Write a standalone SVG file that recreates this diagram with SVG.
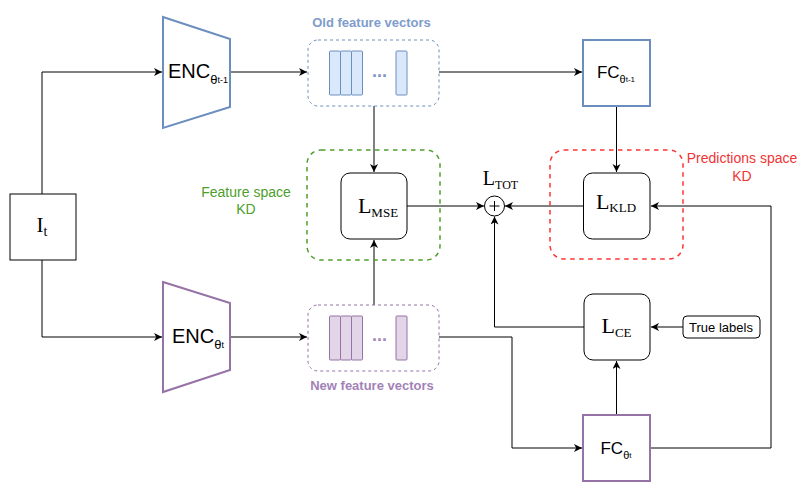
<svg xmlns="http://www.w3.org/2000/svg" width="806" height="488" viewBox="0 0 806 488">
<style>
.bg{fill:#ffffff}
.edge{fill:none;stroke:#000;stroke-width:1}
.box{fill:#fff;stroke:#000;stroke-width:1}
.blue{fill:#fff;stroke:#6c8ebf;stroke-width:2}
.purple{fill:#fff;stroke:#9673a6;stroke-width:2}
.fvb{fill:#fff;stroke:#6c8ebf;stroke-width:1;stroke-dasharray:3 3}
.fvp{fill:#fff;stroke:#9673a6;stroke-width:1;stroke-dasharray:3 3}
.barb{fill:#dae8fc;stroke:#6c8ebf;stroke-width:1}
.barp{fill:#e1d5e7;stroke:#9673a6;stroke-width:1}
.sans{font-family:"Liberation Sans",Arial,sans-serif}
.serif{font-family:"Liberation Serif","Times New Roman",serif}
</style>
<defs>
<marker id="arr" markerUnits="userSpaceOnUse" markerWidth="10" markerHeight="10" refX="8" refY="4" orient="auto">
<path d="M0,0 L8,4 L0,8 L2.2,4 Z" fill="#000"/>
</marker>
</defs>
<rect class="bg" x="0" y="0" width="806" height="488"/>

<g id="connectors">
<path class="edge" d="M42,194 V72 H162" marker-end="url(#arr)"/>
<path class="edge" d="M42,260 V337 H162" marker-end="url(#arr)"/>
<path class="edge" d="M230,72 H307" marker-end="url(#arr)"/>
<path class="edge" d="M230,337 H307" marker-end="url(#arr)"/>
<path class="edge" d="M439,72 H582" marker-end="url(#arr)"/>
<path class="edge" d="M374,106 V172" marker-end="url(#arr)"/>
<path class="edge" d="M374,305 V240" marker-end="url(#arr)"/>
<path class="edge" d="M616.5,106 V172" marker-end="url(#arr)"/>
<path class="edge" d="M407,206 H484" marker-end="url(#arr)"/>
<path class="edge" d="M583,206 H505" marker-end="url(#arr)"/>
<path class="edge" d="M584,327 H494.5 V216.5" marker-end="url(#arr)"/>
<path class="edge" d="M650,448 H771 V206 H651" marker-end="url(#arr)"/>
<path class="edge" d="M439,337 H512 V448 H582" marker-end="url(#arr)"/>
<path class="edge" d="M616.5,415 V361" marker-end="url(#arr)"/>
<path class="edge" d="M683,327 H651" marker-end="url(#arr)"/>
</g>

<g id="input">
<rect class="box" x="10" y="194" width="66" height="66"/>
<text class="serif" x="42" y="232" font-size="21" text-anchor="middle" fill="#000">I<tspan font-size="14" dy="4">t</tspan></text>
</g>

<g id="enc-old">
<polygon class="blue" points="163,17 230,39 230,107 163,128"/>
<text class="sans" x="198" y="78" font-size="20" text-anchor="middle" fill="#000">ENC<tspan font-size="13" dy="6">θ</tspan><tspan font-size="9" dy="-1">t-1</tspan></text>
</g>

<g id="enc-new">
<polygon class="purple" points="163,282 230,303 230,370 163,392"/>
<text class="sans" x="198" y="343" font-size="20" text-anchor="middle" fill="#000">ENC<tspan font-size="13" dy="6">θ</tspan><tspan font-size="9" dy="-1">t</tspan></text>
</g>

<g id="old-features">
<rect class="fvb" x="308" y="40" width="131" height="66" rx="10"/>
<rect class="barb" x="329.5" y="51" width="11" height="44" rx="1"/>
<rect class="barb" x="340.5" y="51" width="11" height="44" rx="1"/>
<rect class="barb" x="351.5" y="51" width="11" height="44" rx="1"/>
<rect class="barb" x="396" y="51" width="11" height="44" rx="1"/>
<text class="sans" x="379.5" y="77" font-size="18" font-weight="bold" text-anchor="middle" fill="#7f97c8">...</text>
<text class="sans" x="371.5" y="26.5" font-size="13" font-weight="bold" text-anchor="middle" fill="#7e9ccc">Old feature vectors</text>
</g>

<g id="new-features">
<rect class="fvp" x="308" y="305" width="131" height="66" rx="10"/>
<rect class="barp" x="329.5" y="316" width="11" height="44" rx="1"/>
<rect class="barp" x="340.5" y="316" width="11" height="44" rx="1"/>
<rect class="barp" x="351.5" y="316" width="11" height="44" rx="1"/>
<rect class="barp" x="396" y="316" width="11" height="44" rx="1"/>
<text class="sans" x="379.5" y="341" font-size="18" font-weight="bold" text-anchor="middle" fill="#a58bb5">...</text>
<text class="sans" x="372" y="390" font-size="13" font-weight="bold" text-anchor="middle" fill="#a282b6">New feature vectors</text>
</g>

<g id="feature-kd">
<rect x="307" y="150" width="133" height="110" rx="14" fill="none" stroke="#4d9e2a" stroke-width="1.5" stroke-dasharray="4.5 4.5"/>
<text class="sans" x="246" y="197" font-size="14" text-anchor="middle" fill="#4d9e2a">Feature space</text>
<text class="sans" x="246" y="214" font-size="14" text-anchor="middle" fill="#4d9e2a">KD</text>
</g>

<g id="l-mse">
<rect class="box" x="341" y="173" width="66" height="66" rx="9"/>
<text class="serif" x="378" y="212.5" font-size="22" text-anchor="middle" fill="#000">L<tspan font-size="13" dy="4.5">MSE</tspan></text>
</g>

<g id="pred-kd">
<rect x="550" y="150" width="133" height="109" rx="14" fill="none" stroke="#ff3333" stroke-width="1.5" stroke-dasharray="4.5 4.5"/>
<text class="sans" x="742" y="162.5" font-size="14" text-anchor="middle" fill="#f03535">Predictions space</text>
<text class="sans" x="742" y="180.5" font-size="14" text-anchor="middle" fill="#f03535">KD</text>
</g>

<g id="fc-old">
<rect class="blue" x="583" y="40" width="67" height="66"/>
<text class="sans" x="616" y="78" font-size="17" text-anchor="middle" fill="#000">FC<tspan font-size="11" dy="5">θ</tspan><tspan font-size="8" dy="-1">t-1</tspan></text>
</g>

<g id="l-kld">
<rect class="box" x="583.5" y="173" width="66.5" height="66" rx="9"/>
<text class="serif" x="616" y="208.5" font-size="22" text-anchor="middle" fill="#000">L<tspan font-size="13" dy="3.5">KLD</tspan></text>
</g>

<g id="sum">
<circle cx="494.5" cy="206" r="10" fill="#fff" stroke="#000" stroke-width="1"/>
<path d="M489.5,206 H499.5 M494.5,201 V211" stroke="#000" stroke-width="1" fill="none"/>
<text class="serif" x="500.5" y="185" font-size="20" text-anchor="middle" fill="#000">L<tspan font-size="12" dy="3.5">TOT</tspan></text>
</g>

<g id="l-ce">
<rect class="box" x="584" y="294" width="66" height="66" rx="9"/>
<text class="serif" x="616.5" y="332.5" font-size="22" text-anchor="middle" fill="#000">L<tspan font-size="13" dy="4.5">CE</tspan></text>
</g>

<g id="true-labels">
<rect class="box" x="683" y="316" width="77" height="22" rx="4"/>
<text class="sans" x="721" y="331.5" font-size="13" text-anchor="middle" fill="#000">True labels</text>
</g>

<g id="fc-new">
<rect class="purple" x="583" y="415" width="67" height="66"/>
<text class="sans" x="616" y="454" font-size="17" text-anchor="middle" fill="#000">FC<tspan font-size="11" dy="5">θ</tspan><tspan font-size="8" dy="-1">t</tspan></text>
</g>
</svg>
